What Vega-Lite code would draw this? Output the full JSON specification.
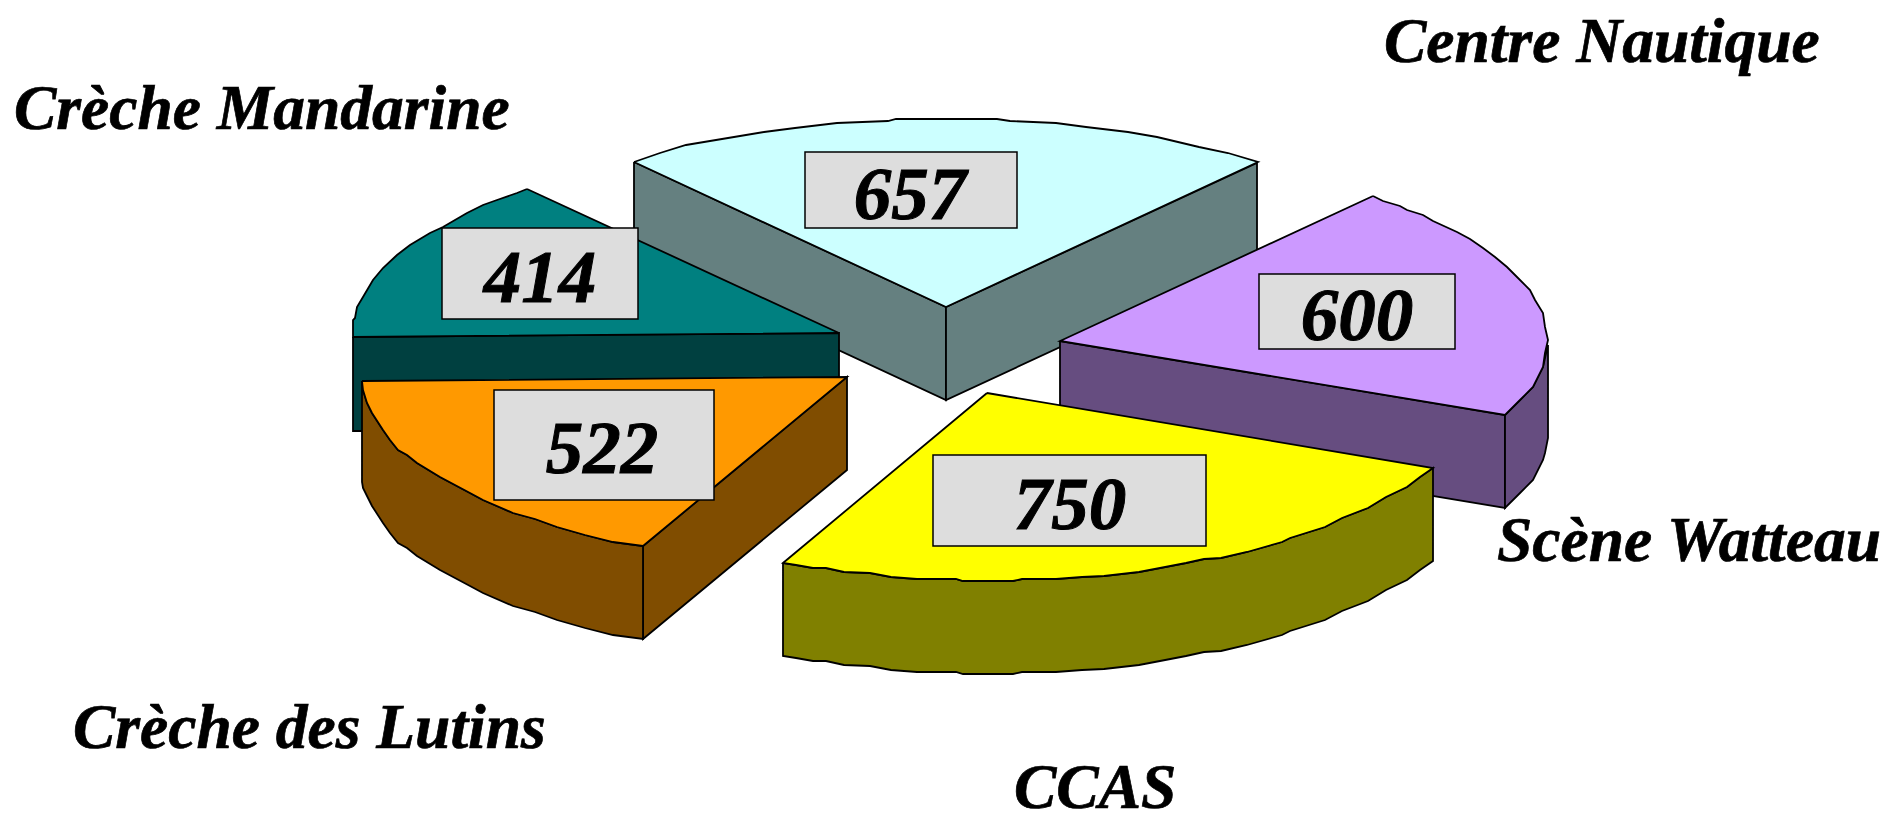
{
"$schema":"https://vega.github.io/schema/vega-lite/v6.json",
"width":1894,"height":814,"padding":0,"autosize":{"type":"none"},
"background":"white",
"view":{"stroke":null},
"datasets":{
"faces":[
{"s":"cyanL","x":634,"y":162},{"s":"cyanL","x":946,"y":307},{"s":"cyanL","x":946,"y":400},{"s":"cyanL","x":634,"y":255},{"s":"cyanL","x":634,"y":162},
{"s":"cyanR","x":946,"y":307},{"s":"cyanR","x":1257,"y":163},{"s":"cyanR","x":1257,"y":256},{"s":"cyanR","x":946,"y":400},{"s":"cyanR","x":946,"y":307},
{"s":"cyanTop","x":634,"y":162},{"s":"cyanTop","x":660,"y":153},{"s":"cyanTop","x":686,"y":145},{"s":"cyanTop","x":710,"y":141},{"s":"cyanTop","x":734,"y":137},{"s":"cyanTop","x":764,"y":132},{"s":"cyanTop","x":795,"y":128},{"s":"cyanTop","x":837,"y":123},{"s":"cyanTop","x":888,"y":121},{"s":"cyanTop","x":896,"y":119},{"s":"cyanTop","x":997,"y":119},{"s":"cyanTop","x":1010,"y":121},{"s":"cyanTop","x":1056,"y":123},{"s":"cyanTop","x":1086,"y":127},{"s":"cyanTop","x":1128,"y":132},{"s":"cyanTop","x":1157,"y":137},{"s":"cyanTop","x":1199,"y":147},{"s":"cyanTop","x":1228,"y":153},{"s":"cyanTop","x":1258,"y":162},{"s":"cyanTop","x":946,"y":307},{"s":"cyanTop","x":634,"y":162},
{"s":"tealSide","x":353,"y":337},{"s":"tealSide","x":839,"y":333},{"s":"tealSide","x":839,"y":430},{"s":"tealSide","x":353,"y":431},{"s":"tealSide","x":353,"y":337},
{"s":"tealTop","x":527,"y":189},{"s":"tealTop","x":517,"y":193},{"s":"tealTop","x":497,"y":200},{"s":"tealTop","x":483,"y":205},{"s":"tealTop","x":467,"y":213},{"s":"tealTop","x":443,"y":227},{"s":"tealTop","x":430,"y":233},{"s":"tealTop","x":410,"y":245},{"s":"tealTop","x":397,"y":255},{"s":"tealTop","x":383,"y":268},{"s":"tealTop","x":373,"y":280},{"s":"tealTop","x":363,"y":297},{"s":"tealTop","x":357,"y":307},{"s":"tealTop","x":355,"y":318},{"s":"tealTop","x":353,"y":320},{"s":"tealTop","x":353,"y":337},{"s":"tealTop","x":839,"y":333},{"s":"tealTop","x":527,"y":189},
{"s":"purpleFront","x":1060,"y":341},{"s":"purpleFront","x":1505,"y":415},{"s":"purpleFront","x":1505,"y":508},{"s":"purpleFront","x":1060,"y":434},{"s":"purpleFront","x":1060,"y":341},
{"s":"purpleRight","x":1505,"y":415},{"s":"purpleRight","x":1520,"y":400},{"s":"purpleRight","x":1533,"y":387},{"s":"purpleRight","x":1543,"y":367},{"s":"purpleRight","x":1548,"y":345},{"s":"purpleRight","x":1548,"y":438},{"s":"purpleRight","x":1545,"y":453},{"s":"purpleRight","x":1543,"y":460},{"s":"purpleRight","x":1533,"y":480},{"s":"purpleRight","x":1520,"y":493},{"s":"purpleRight","x":1505,"y":508},{"s":"purpleRight","x":1505,"y":415},
{"s":"purpleTop","x":1373,"y":196},{"s":"purpleTop","x":1383,"y":201},{"s":"purpleTop","x":1400,"y":206},{"s":"purpleTop","x":1407,"y":210},{"s":"purpleTop","x":1423,"y":215},{"s":"purpleTop","x":1433,"y":221},{"s":"purpleTop","x":1457,"y":232},{"s":"purpleTop","x":1470,"y":239},{"s":"purpleTop","x":1483,"y":248},{"s":"purpleTop","x":1495,"y":257},{"s":"purpleTop","x":1507,"y":267},{"s":"purpleTop","x":1517,"y":277},{"s":"purpleTop","x":1530,"y":290},{"s":"purpleTop","x":1535,"y":300},{"s":"purpleTop","x":1543,"y":313},{"s":"purpleTop","x":1545,"y":327},{"s":"purpleTop","x":1548,"y":340},{"s":"purpleTop","x":1545,"y":353},{"s":"purpleTop","x":1543,"y":367},{"s":"purpleTop","x":1533,"y":387},{"s":"purpleTop","x":1520,"y":400},{"s":"purpleTop","x":1505,"y":415},{"s":"purpleTop","x":1060,"y":341},{"s":"purpleTop","x":1373,"y":196},
{"s":"orangeRight","x":643,"y":546},{"s":"orangeRight","x":847,"y":377},{"s":"orangeRight","x":847,"y":470},{"s":"orangeRight","x":643,"y":639},{"s":"orangeRight","x":643,"y":546},
{"s":"orangeArc","x":362,"y":381},{"s":"orangeArc","x":363,"y":390},{"s":"orangeArc","x":367,"y":403},{"s":"orangeArc","x":372,"y":413},{"s":"orangeArc","x":383,"y":430},{"s":"orangeArc","x":390,"y":440},{"s":"orangeArc","x":398,"y":450},{"s":"orangeArc","x":407,"y":455},{"s":"orangeArc","x":417,"y":463},{"s":"orangeArc","x":440,"y":477},{"s":"orangeArc","x":470,"y":493},{"s":"orangeArc","x":483,"y":500},{"s":"orangeArc","x":513,"y":513},{"s":"orangeArc","x":535,"y":519},{"s":"orangeArc","x":557,"y":527},{"s":"orangeArc","x":585,"y":535},{"s":"orangeArc","x":613,"y":542},{"s":"orangeArc","x":643,"y":546},{"s":"orangeArc","x":643,"y":639},{"s":"orangeArc","x":613,"y":635},{"s":"orangeArc","x":585,"y":628},{"s":"orangeArc","x":557,"y":620},{"s":"orangeArc","x":535,"y":612},{"s":"orangeArc","x":513,"y":606},{"s":"orangeArc","x":483,"y":593},{"s":"orangeArc","x":470,"y":586},{"s":"orangeArc","x":440,"y":570},{"s":"orangeArc","x":417,"y":556},{"s":"orangeArc","x":407,"y":548},{"s":"orangeArc","x":398,"y":543},{"s":"orangeArc","x":390,"y":533},{"s":"orangeArc","x":383,"y":523},{"s":"orangeArc","x":372,"y":506},{"s":"orangeArc","x":367,"y":496},{"s":"orangeArc","x":363,"y":488},{"s":"orangeArc","x":362,"y":482},{"s":"orangeArc","x":362,"y":381},
{"s":"orangeTop","x":362,"y":381},{"s":"orangeTop","x":847,"y":377},{"s":"orangeTop","x":643,"y":546},{"s":"orangeTop","x":613,"y":542},{"s":"orangeTop","x":585,"y":535},{"s":"orangeTop","x":557,"y":527},{"s":"orangeTop","x":535,"y":519},{"s":"orangeTop","x":513,"y":513},{"s":"orangeTop","x":483,"y":500},{"s":"orangeTop","x":470,"y":493},{"s":"orangeTop","x":440,"y":477},{"s":"orangeTop","x":417,"y":463},{"s":"orangeTop","x":407,"y":455},{"s":"orangeTop","x":398,"y":450},{"s":"orangeTop","x":390,"y":440},{"s":"orangeTop","x":383,"y":430},{"s":"orangeTop","x":372,"y":413},{"s":"orangeTop","x":367,"y":403},{"s":"orangeTop","x":363,"y":390},{"s":"orangeTop","x":362,"y":381},
{"s":"yellowSide","x":783,"y":563},{"s":"yellowSide","x":796,"y":565},{"s":"yellowSide","x":813,"y":568},{"s":"yellowSide","x":826,"y":568},{"s":"yellowSide","x":844,"y":572},{"s":"yellowSide","x":870,"y":573},{"s":"yellowSide","x":891,"y":577},{"s":"yellowSide","x":917,"y":579},{"s":"yellowSide","x":956,"y":579},{"s":"yellowSide","x":963,"y":581},{"s":"yellowSide","x":1013,"y":581},{"s":"yellowSide","x":1022,"y":579},{"s":"yellowSide","x":1056,"y":579},{"s":"yellowSide","x":1082,"y":577},{"s":"yellowSide","x":1104,"y":576},{"s":"yellowSide","x":1139,"y":572},{"s":"yellowSide","x":1160,"y":568},{"s":"yellowSide","x":1186,"y":563},{"s":"yellowSide","x":1204,"y":559},{"s":"yellowSide","x":1221,"y":558},{"s":"yellowSide","x":1247,"y":552},{"s":"yellowSide","x":1282,"y":542},{"s":"yellowSide","x":1290,"y":538},{"s":"yellowSide","x":1325,"y":527},{"s":"yellowSide","x":1342,"y":518},{"s":"yellowSide","x":1368,"y":508},{"s":"yellowSide","x":1386,"y":497},{"s":"yellowSide","x":1407,"y":487},{"s":"yellowSide","x":1420,"y":477},{"s":"yellowSide","x":1433,"y":468},{"s":"yellowSide","x":1433,"y":561},{"s":"yellowSide","x":1420,"y":570},{"s":"yellowSide","x":1407,"y":580},{"s":"yellowSide","x":1386,"y":590},{"s":"yellowSide","x":1368,"y":601},{"s":"yellowSide","x":1342,"y":611},{"s":"yellowSide","x":1325,"y":620},{"s":"yellowSide","x":1290,"y":631},{"s":"yellowSide","x":1282,"y":635},{"s":"yellowSide","x":1247,"y":645},{"s":"yellowSide","x":1221,"y":651},{"s":"yellowSide","x":1204,"y":652},{"s":"yellowSide","x":1186,"y":656},{"s":"yellowSide","x":1160,"y":661},{"s":"yellowSide","x":1139,"y":665},{"s":"yellowSide","x":1104,"y":669},{"s":"yellowSide","x":1082,"y":670},{"s":"yellowSide","x":1056,"y":672},{"s":"yellowSide","x":1022,"y":672},{"s":"yellowSide","x":1013,"y":674},{"s":"yellowSide","x":963,"y":674},{"s":"yellowSide","x":956,"y":672},{"s":"yellowSide","x":917,"y":672},{"s":"yellowSide","x":891,"y":670},{"s":"yellowSide","x":870,"y":666},{"s":"yellowSide","x":844,"y":665},{"s":"yellowSide","x":826,"y":661},{"s":"yellowSide","x":813,"y":661},{"s":"yellowSide","x":796,"y":658},{"s":"yellowSide","x":783,"y":656},{"s":"yellowSide","x":783,"y":563},
{"s":"yellowTop","x":987,"y":393},{"s":"yellowTop","x":1433,"y":468},{"s":"yellowTop","x":1420,"y":477},{"s":"yellowTop","x":1407,"y":487},{"s":"yellowTop","x":1386,"y":497},{"s":"yellowTop","x":1368,"y":508},{"s":"yellowTop","x":1342,"y":518},{"s":"yellowTop","x":1325,"y":527},{"s":"yellowTop","x":1290,"y":538},{"s":"yellowTop","x":1282,"y":542},{"s":"yellowTop","x":1247,"y":552},{"s":"yellowTop","x":1221,"y":558},{"s":"yellowTop","x":1204,"y":559},{"s":"yellowTop","x":1186,"y":563},{"s":"yellowTop","x":1160,"y":568},{"s":"yellowTop","x":1139,"y":572},{"s":"yellowTop","x":1104,"y":576},{"s":"yellowTop","x":1082,"y":577},{"s":"yellowTop","x":1056,"y":579},{"s":"yellowTop","x":1022,"y":579},{"s":"yellowTop","x":1013,"y":581},{"s":"yellowTop","x":963,"y":581},{"s":"yellowTop","x":956,"y":579},{"s":"yellowTop","x":917,"y":579},{"s":"yellowTop","x":891,"y":577},{"s":"yellowTop","x":870,"y":573},{"s":"yellowTop","x":844,"y":572},{"s":"yellowTop","x":826,"y":568},{"s":"yellowTop","x":813,"y":568},{"s":"yellowTop","x":796,"y":565},{"s":"yellowTop","x":783,"y":563},{"s":"yellowTop","x":987,"y":393}
],
"values":[
{"v":"657","x":910,"y":219,"x0":805,"x1":1017,"y0":152,"y1":228},
{"v":"414","x":540,"y":302,"x0":442,"x1":638,"y0":228,"y1":319},
{"v":"600","x":1357,"y":340,"x0":1259,"x1":1455,"y0":274,"y1":349},
{"v":"522","x":602,"y":473,"x0":494,"x1":714,"y0":390,"y1":500},
{"v":"750","x":1070,"y":529,"x0":933,"x1":1206,"y0":455,"y1":546}
],
"names":[
{"n":"Centre Nautique","x":1384,"y":62},
{"n":"Crèche Mandarine","x":14,"y":129},
{"n":"Scène Watteau","x":1497,"y":561},
{"n":"Crèche des Lutins","x":73,"y":748},
{"n":"CCAS","x":1014,"y":808}
]
},
"resolve":{"scale":{"x":"independent","y":"independent"}},
"layer":[
{"data":{"name":"faces"},
"mark":{"type":"line","stroke":"black","strokeWidth":1.8,"strokeJoin":"miter"},
"encoding":{
"x":{"field":"x","type":"quantitative","scale":{"domain":[0,1894],"nice":false},"axis":null},
"y":{"field":"y","type":"quantitative","scale":{"domain":[814,0],"nice":false},"axis":null},
"order":{"value":null},
"fill":{"field":"s","type":"nominal","legend":null,"scale":{
"domain":["cyanL","cyanR","cyanTop","tealSide","tealTop","purpleFront","purpleRight","purpleTop","orangeRight","orangeArc","orangeTop","yellowSide","yellowTop"],
"range":["#658080","#658080","#CCFFFF","#004040","#008080","#664D80","#664D80","#CC99FF","#804D00","#804D00","#FF9900","#808000","#FFFF00"]}}
}},
{"data":{"name":"values"},
"mark":{"type":"rect","fill":"#DDDDDD","stroke":"black","strokeWidth":1.5},
"encoding":{
"x":{"field":"x0","type":"quantitative","scale":{"domain":[0,1894],"nice":false},"axis":null},"x2":{"field":"x1"},
"y":{"field":"y0","type":"quantitative","scale":{"domain":[814,0],"nice":false},"axis":null},"y2":{"field":"y1"}
}},
{"data":{"name":"values"},
"mark":{"type":"text","font":"Liberation Serif","fontWeight":"bold","fontStyle":"italic","fontSize":75,"baseline":"alphabetic","align":"center","fill":"black","stroke":"black","strokeWidth":1},
"encoding":{
"x":{"field":"x","type":"quantitative","scale":{"domain":[0,1894],"nice":false},"axis":null},
"y":{"field":"y","type":"quantitative","scale":{"domain":[814,0],"nice":false},"axis":null},
"text":{"field":"v"}
}},
{"data":{"name":"names"},
"mark":{"type":"text","font":"Liberation Serif","fontWeight":"bold","fontStyle":"italic","fontSize":63.5,"baseline":"alphabetic","align":"left","fill":"black","stroke":"black","strokeWidth":0.7},
"encoding":{
"x":{"field":"x","type":"quantitative","scale":{"domain":[0,1894],"nice":false},"axis":null},
"y":{"field":"y","type":"quantitative","scale":{"domain":[814,0],"nice":false},"axis":null},
"text":{"field":"n"}
}}
]
}
